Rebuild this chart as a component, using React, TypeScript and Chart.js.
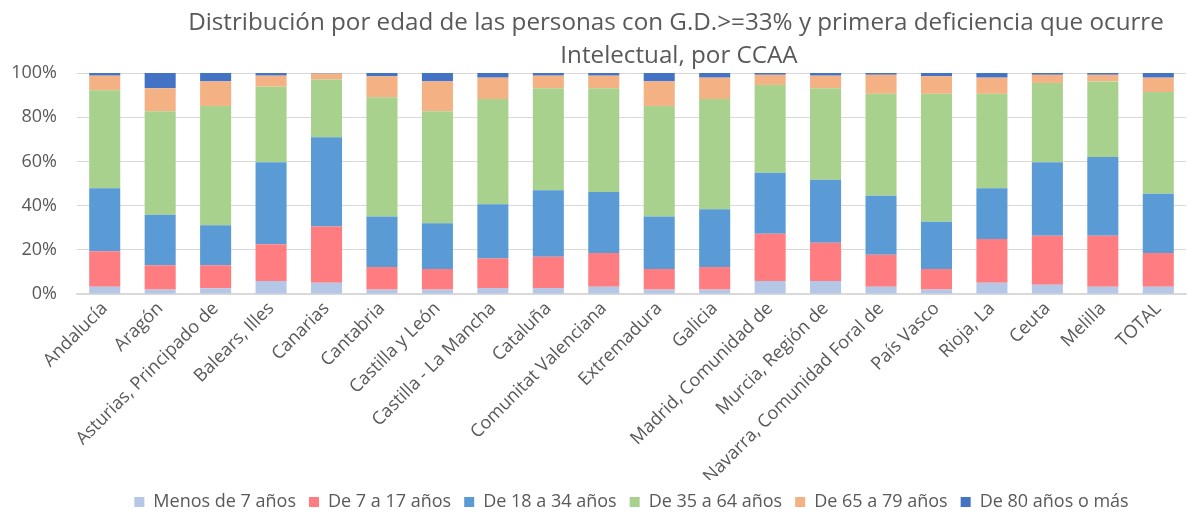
import React, { useEffect, useRef } from "react";
import { Chart, registerables } from "chart.js";

Chart.register(...registerables);

const titleLines = [
  "Distribución por edad de las personas con G.D.>=33% y primera deficiencia que ocurre",
  "Intelectual, por CCAA",
];

const categories = [
  "Andalucía",
  "Aragón",
  "Asturias, Principado de",
  "Balears, Illes",
  "Canarias",
  "Cantabria",
  "Castilla y León",
  "Castilla - La Mancha",
  "Cataluña",
  "Comunitat Valenciana",
  "Extremadura",
  "Galicia",
  "Madrid, Comunidad de",
  "Murcia, Región de",
  "Navarra, Comunidad Foral de",
  "País Vasco",
  "Rioja, La",
  "Ceuta",
  "Melilla",
  "TOTAL",
];

const seriesNames = [
  "Menos de 7 años",
  "De 7 a 17 años",
  "De 18 a 34 años",
  "De 35 a 64 años",
  "De 65 a 79 años",
  "De 80 años o más",
];

const menos7 = [3.3, 2.0, 2.6, 5.9, 5.1, 2.0, 2.0, 2.7, 2.7, 3.3, 2.0, 2.0, 5.9, 5.9, 3.3, 2.0, 5.1, 4.2, 3.3, 3.3];
const de7a17 = [16.0, 11.0, 10.4, 16.6, 25.4, 10.2, 9.3, 13.4, 14.2, 15.3, 9.3, 10.2, 21.4, 17.3, 14.5, 9.3, 19.8, 22.2, 23.1, 15.3];
const de18a34 = [28.5, 22.9, 18.1, 37.1, 40.4, 22.9, 20.7, 24.5, 30.0, 27.6, 23.8, 26.1, 27.6, 28.5, 26.7, 21.4, 22.9, 33.2, 35.6, 26.8];
const de35a64 = [44.4, 46.8, 54.0, 34.2, 26.2, 53.9, 50.7, 47.6, 46.2, 46.9, 50.0, 49.9, 39.7, 41.4, 46.1, 57.9, 42.8, 35.9, 34.2, 46.0];
const de65a79 = [6.6, 10.4, 11.1, 5.0, 2.7, 9.5, 13.5, 9.7, 5.7, 5.7, 11.1, 9.7, 4.6, 5.7, 8.6, 7.9, 7.3, 3.7, 3.0, 6.5];
const de80 = [1.2, 6.9, 3.8, 1.2, 0.2, 1.5, 3.8, 2.1, 1.2, 1.2, 3.8, 2.1, 0.8, 1.2, 0.8, 1.5, 2.1, 0.8, 0.8, 2.1];

const yTicks = [0, 20, 40, 60, 80, 100];

const seriesValues = [menos7, de7a17, de18a34, de35a64, de65a79, de80];
const seriesColors = ["#B4C7E7", "#FF7C80", "#5B9BD5", "#A9D18E", "#F4B183", "#4472C4"];

const TEXT = "#595959";
const FONT = "'Open Sans', sans-serif";

const titlePlugin = {
  id: "customTitle",
  afterDraw(chart: any) {
    const ctx = chart.ctx;
    ctx.save();
    let size = 24;
    ctx.font = `${size}px ${FONT}`;
    const w = ctx.measureText(titleLines[0]).width;
    size = size * (976 / w);
    ctx.font = `${size}px ${FONT}`;
    ctx.fillStyle = TEXT;
    ctx.textAlign = "center";
    ctx.textBaseline = "alphabetic";
    ctx.fillText(titleLines[0], 676, 30);
    ctx.fillText(titleLines[1], 679, 63);
    ctx.restore();
  },
};

export default function App() {
  const ref = useRef<HTMLCanvasElement | null>(null);
  useEffect(() => {
    document.body.style.margin = "0";
    const canvas = ref.current;
    if (!canvas) return;
    const chart = new Chart(canvas, {
      type: "bar",
      data: {
        labels: categories,
        datasets: seriesNames.map((name, i) => ({
          label: name,
          data: seriesValues[i],
          backgroundColor: seriesColors[i],
          borderWidth: 0,
          categoryPercentage: 1,
          barPercentage: 0.56,
        })),
      },
      options: {
        responsive: false,
        animation: false,
        layout: { padding: { top: 73, left: 0, right: 3, bottom: -3 } },
        plugins: {
          legend: {
            position: "bottom",
            fullSize: false,
            labels: {
              boxWidth: 10,
              boxHeight: 10,
              padding: 13,
              color: TEXT,
              font: { family: FONT, size: 18 },
            },
          },
          title: { display: false },
          tooltip: { enabled: false },
        },
        scales: {
          x: {
            stacked: true,
            grid: { display: false, drawTicks: false },
            border: { display: true, color: "#D9D9D9", width: 1.5 },
            ticks: {
              minRotation: 45,
              maxRotation: 45,
              autoSkip: false,
              padding: 4,
              color: TEXT,
              font: { family: FONT, size: 18 },
            },
            afterFit: (scale: any) => {
              scale.height = 186;
            },
          },
          y: {
            stacked: true,
            min: 0,
            max: 100,
            afterBuildTicks: (scale: any) => {
              scale.ticks = yTicks.map((v) => ({ value: v }));
            },
            grid: { color: "#D9D9D9", lineWidth: 1, drawTicks: false },
            border: { display: false },
            ticks: {
              padding: 20,
              color: TEXT,
              font: { family: FONT, size: 18 },
              callback: (v: any) => `${v}%`,
            },
            afterFit: (scale: any) => {
              scale.width = 77;
            },
          },
        },
      },
      plugins: [titlePlugin],
    });
    return () => chart.destroy();
  }, []);
  return (
    <div style={{ width: 1189, height: 518, position: "relative" }}>
      <canvas ref={ref} width={1189} height={518} style={{ display: "block" }} />
    </div>
  );
}
